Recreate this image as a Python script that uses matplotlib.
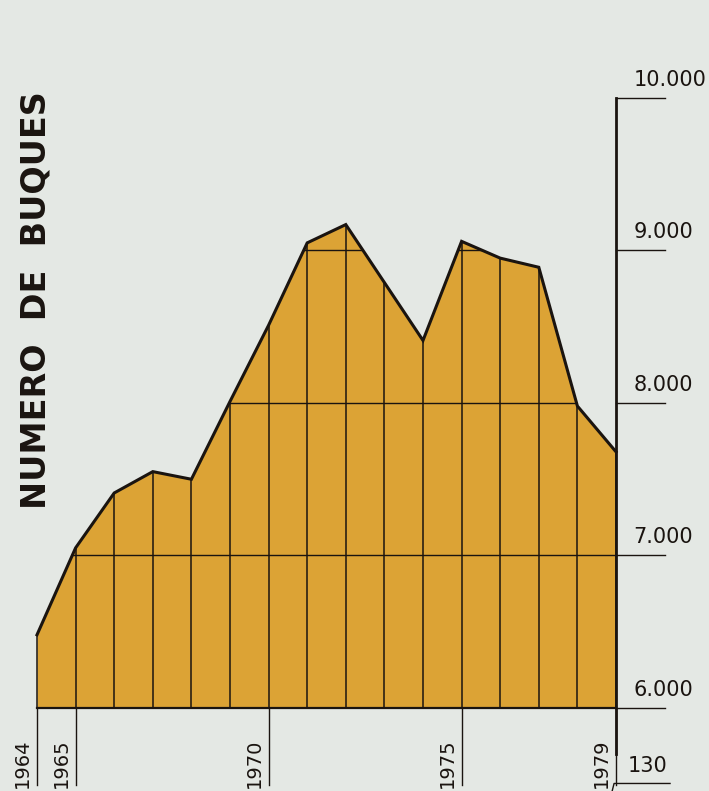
import numpy as np
import matplotlib
matplotlib.use("Agg")
import matplotlib.pyplot as plt

# Numero de buques por año
years = np.arange(1964, 1980)
ships = [6480, 7050, 7410, 7550, 7500, 8010, 8510, 9050,
         9170, 8790, 8410, 9060, 8950, 8890, 7980, 7680]
y_ticks = [6000, 7000, 8000, 9000, 10000]
y_tick_labels = ["6.000", "7.000", "8.000", "9.000", "10.000"]
grid_levels = [7000, 8000, 9000]
year_labels = [1964, 1965, 1970, 1975, 1979]

BG = "#e4e8e4"
GOLD = "#dca335"
INK = "#1a1410"


def main():
    fig = plt.figure(figsize=(7.09, 7.91), dpi=100, facecolor=BG)
    ax = fig.add_axes([0, 0, 1, 1], facecolor=BG)
    # map data to the page: 38.6 px per year, 152.5 px per 1000 ships
    px_year = 38.6
    px_k = 0.1525
    ax.set_xlim(1964 - 37 / px_year, 1964 + (709 - 37) / px_year)
    ax.set_ylim(6000 - 83 / px_k, 6000 + 708 / px_k)
    ax.axis("off")

    base = y_ticks[0]
    poly = ax.fill_between(years, base, ships, color=GOLD, lw=0, zorder=1)

    # horizontal grid inside the filled area only
    for lev in grid_levels:
        ln, = ax.plot([years[0], years[-1]], [lev, lev], color=INK, lw=1.0, zorder=2)
        ln.set_clip_path(poly.get_paths()[0], ax.transData)

    # vertical line at every year
    ax.vlines(years, base, ships, color=INK, lw=1.1, zorder=3)
    ax.plot([years[0], years[-1]], [base, base], color=INK, lw=1.6, zorder=3)
    ax.plot(years, ships, color=INK, lw=2.2, zorder=4, solid_joinstyle="miter")

    # year ticks below the base
    low = base - 77 / px_k
    for yr in year_labels:
        ax.plot([yr, yr], [low, base], color=INK, lw=1.0)
        ax.text(yr - 0.12, low - 20, str(yr), rotation=90, ha="right", va="bottom",
                fontsize=14, color=INK, family="DejaVu Sans")

    # right scale
    right = years[-1]
    ax.plot([right, right], [low + 200, y_ticks[-1]], color=INK, lw=2.0, zorder=5)
    for v, lab in zip(y_ticks, y_tick_labels):
        ax.plot([right, right + 1.27], [v, v], color=INK, lw=1.0)
        ax.text(right + 0.45, v + 55, lab, ha="left", va="bottom",
                fontsize=15, color=INK, family="DejaVu Sans")

    # start of next chart, cut off at the bottom
    ax.text(right + 0.3, low + 60, "130", ha="left", va="bottom",
            fontsize=15, color=INK, family="DejaVu Sans")
    ax.plot([right - 0.1, right - 0.05, right + 1.4], [low - 40, low + 10, low + 10],
            color=INK, lw=1.0, clip_on=False)

    ax.text(1963.98, 8675, "NUMERO  DE  BUQUES", rotation=90, ha="center", va="center",
            fontsize=24, fontweight="bold", color=INK, family="DejaVu Sans")

    fig.savefig("out.png", dpi=100, facecolor=BG)


if __name__ == "__main__":
    main()
